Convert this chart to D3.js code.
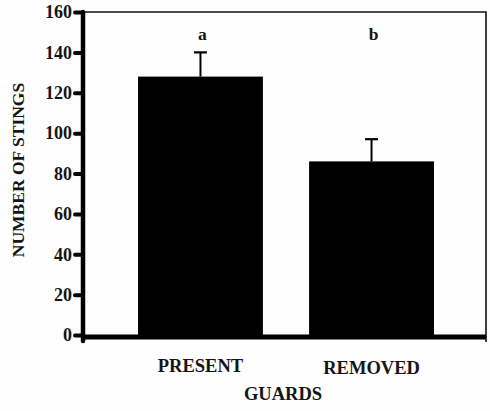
<!DOCTYPE html>
<html>
<head>
<meta charset="utf-8">
<script src="https://cdn.jsdelivr.net/npm/d3@7"></script>
<style>
  html, body { margin: 0; padding: 0; background: #fefefe; }
  svg { display: block; }
  text { font-family: "Liberation Serif", "Times New Roman", serif; font-weight: bold; fill: #151515; }
</style>
</head>
<body>
<svg id="chart" width="490" height="411"></svg>
<script>
const categories = ["PRESENT", "REMOVED"];
const means = [128, 86];
const errors = [12, 11];
const letters = ["a", "b"];
const yTicks = [0, 20, 40, 60, 80, 100, 120, 140, 160];
const xTitle = "GUARDS";
const yTitle = "NUMBER OF STINGS";

const svg = d3.select("#chart");
const mLeft = 85, mRight = 487, mTop = 12, mBottom = 335;

const x = d3.scaleBand().domain(categories).range([mLeft, mRight]).paddingInner(0.27).paddingOuter(0.31);
const y = d3.scaleLinear().domain([0, 160]).range([mBottom, mTop]);

// frame (thin top and right)
svg.append("path")
  .attr("d", `M${mLeft},${y(160)} H${mRight - 1} V${mBottom + 7}`)
  .attr("fill", "none").attr("stroke", "#111").attr("stroke-width", 1.6);

// bars
svg.selectAll("rect.bar").data(categories).enter().append("rect")
  .attr("class", "bar")
  .attr("x", d => x(d))
  .attr("width", x.bandwidth())
  .attr("y", (d, i) => y(means[i]))
  .attr("height", (d, i) => y(0) - y(means[i]))
  .attr("fill", "#000");

// error bars (upper only)
const eb = svg.selectAll("g.err").data(categories).enter().append("g").attr("class", "err");
eb.append("line")
  .attr("x1", d => x(d) + x.bandwidth() / 2).attr("x2", d => x(d) + x.bandwidth() / 2)
  .attr("y1", (d, i) => y(means[i])).attr("y2", (d, i) => y(means[i] + errors[i]))
  .attr("stroke", "#000").attr("stroke-width", 2);
eb.append("line")
  .attr("x1", d => x(d) + x.bandwidth() / 2 - 6.5).attr("x2", d => x(d) + x.bandwidth() / 2 + 6.5)
  .attr("y1", (d, i) => y(means[i] + errors[i])).attr("y2", (d, i) => y(means[i] + errors[i]))
  .attr("stroke", "#000").attr("stroke-width", 2.2);

// significance letters
svg.selectAll("text.letter").data(categories).enter().append("text")
  .attr("class", "letter")
  .attr("x", d => x(d) + x.bandwidth() / 2 + 2)
  .attr("y", 40)
  .attr("text-anchor", "middle")
  .attr("font-size", 17.5)
  .text((d, i) => letters[i]);

// y axis
const yAxis = d3.axisLeft(y).tickValues(yTicks).tickSize(8).tickPadding(3);
const gy = svg.append("g").attr("transform", `translate(${mLeft - 2},0)`).call(yAxis);
gy.select(".domain").remove();
gy.selectAll(".tick line").attr("stroke", "#000").attr("stroke-width", 4).attr("stroke-linecap", "round");
gy.selectAll(".tick text").attr("font-size", 18).attr("font-family", "Liberation Serif").attr("font-weight", "bold").attr("fill", "#151515");

// thick left axis line
svg.append("line")
  .attr("x1", mLeft - 2).attr("x2", mLeft - 2)
  .attr("y1", y(160)).attr("y2", mBottom + 6)
  .attr("stroke", "#000").attr("stroke-width", 4.5).attr("stroke-linecap", "round");

// thick bottom axis line
svg.append("line")
  .attr("x1", mLeft - 2).attr("x2", mRight - 1)
  .attr("y1", mBottom + 2).attr("y2", mBottom + 2)
  .attr("stroke", "#000").attr("stroke-width", 5);

// x category labels
const xAxis = d3.axisBottom(x).tickSize(0).tickPadding(0);
const gx = svg.append("g").attr("transform", `translate(0,${mBottom})`).call(xAxis);
gx.select(".domain").remove();
gx.selectAll(".tick text")
  .attr("font-size", 18.5).attr("font-family", "Liberation Serif").attr("font-weight", "bold").attr("fill", "#151515")
  .attr("dy", null)
  .attr("y", (d, i) => i === 0 ? 37 : 39);

// axis titles
svg.append("text")
  .attr("x", 283).attr("y", 400)
  .attr("text-anchor", "middle").attr("font-size", 18.5)
  .text(xTitle);

svg.append("text")
  .attr("transform", "translate(24,170) rotate(-90)")
  .attr("text-anchor", "middle").attr("font-size", 17.5)
  .text(yTitle);
</script>
</body>
</html>
